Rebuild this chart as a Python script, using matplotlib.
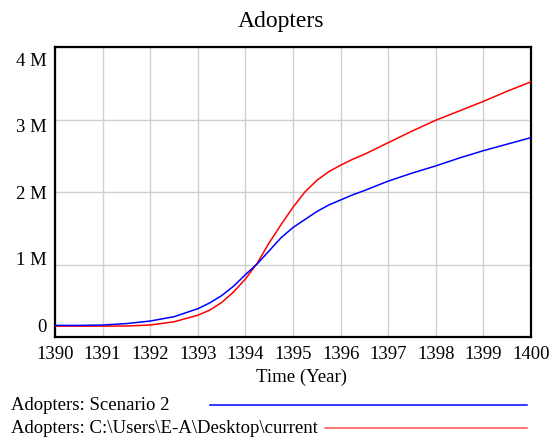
import matplotlib.pyplot as plt
from matplotlib.lines import Line2D
import matplotlib.transforms as mtransforms

# Adopters (millions)
time = [1390, 1390.5, 1391, 1391.5, 1392, 1392.5, 1393, 1393.25, 1393.5, 1393.75,
        1394, 1394.25, 1394.5, 1394.75, 1395, 1395.25, 1395.5, 1395.75, 1396,
        1396.25, 1396.5, 1397, 1397.5, 1398, 1398.5, 1399, 1399.5, 1400]
scenario2 = [0.16, 0.16, 0.165, 0.185, 0.22, 0.28, 0.39, 0.47, 0.57, 0.70,
             0.86, 1.01, 1.19, 1.37, 1.51, 1.62, 1.73, 1.82, 1.89,
             1.96, 2.02, 2.15, 2.26, 2.36, 2.47, 2.57, 2.66, 2.75]
current = [0.15, 0.15, 0.15, 0.152, 0.165, 0.21, 0.30, 0.37, 0.475, 0.62,
           0.80, 1.02, 1.30, 1.55, 1.79, 2.00, 2.16, 2.28, 2.37,
           2.45, 2.52, 2.68, 2.84, 2.99, 3.12, 3.25, 3.39, 3.52]

x_ticks = list(range(1390, 1401))
y_labels = ["0", "1 M", "2 M", "3 M", "4 M"]
legend_labels = ["Adopters: Scenario 2", "Adopters: C:\\Users\\E-A\\Desktop\\current"]

plt.rcParams['font.family'] = ['Liberation Serif', 'DejaVu Serif']

W, H = 552, 439
fig = plt.figure(figsize=(W / 100, H / 100), dpi=100)
ax = fig.add_axes([55 / W, 1 - 338 / H, (531 - 55) / W, (338 - 48) / H])

ax.plot(time, current, color='#ff0000', lw=1.1, zorder=3)
ax.plot(time, scenario2, color='#0000ff', lw=1.1, zorder=3)

ax.set_xlim(1390, 1400)
ax.set_ylim(0, 4)
ax.set_xticks(x_ticks)
ax.set_xticklabels([str(t) for t in x_ticks], fontsize=13.5)
ax.set_yticks(range(5))
ax.set_yticklabels([])
ax.tick_params(length=0, pad=6)
ax.grid(True, color='#d0d0d0', lw=1)
ax.set_axisbelow(True)
for s in ax.spines.values():
    s.set_linewidth(1.6)
    s.set_color('black')

# Vensim-style y labels spread between top and bottom
trans = mtransforms.blended_transform_factory(fig.transFigure, ax.transData)
for i, lab in enumerate(y_labels):
    ypos = 0.15 + i * 0.917
    ax.text(47 / W, ypos, lab, transform=trans, ha='right', va='center', fontsize=13.5)

fig.text(281.5 / W, 1 - 22 / H, "Adopters", ha='center', va='center', fontsize=17)
fig.text(301 / W, 1 - 377 / H, "Time (Year)", ha='center', va='center', fontsize=13.5)

# legend rows
fig.text(11 / W, 1 - 406 / H, legend_labels[0], ha='left', va='center', fontsize=13.5)
fig.text(11 / W, 1 - 429 / H, legend_labels[1], ha='left', va='center', fontsize=13.5)
fig.add_artist(Line2D([210 / W, 527 / W], [1 - 406 / H, 1 - 406 / H], color='#0000ff', lw=1.1))
fig.add_artist(Line2D([325 / W, 527 / W], [1 - 429 / H, 1 - 429 / H], color='#ff5050', lw=1.1))

fig.savefig("out.png", dpi=100)
